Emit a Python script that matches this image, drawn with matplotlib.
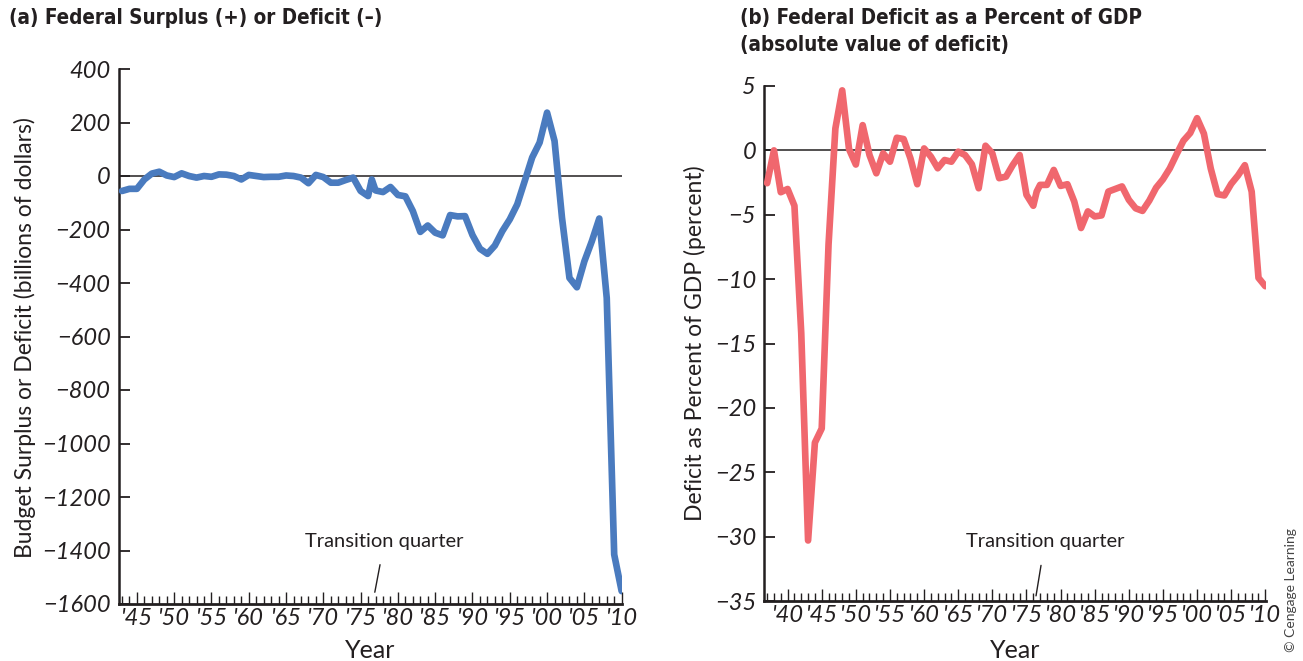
import numpy as np
import matplotlib
matplotlib.use('Agg')
import matplotlib.pyplot as plt
from matplotlib.ticker import MultipleLocator

plt.rcParams['font.family'] = ['Lato', 'DejaVu Sans']

# (a) federal surplus/deficit, billions of dollars (1943-2010, transition quarter at 1976.5)
surplus_years = [1943, 1944, 1945, 1946, 1947, 1948, 1949, 1950, 1951, 1952,
                 1953, 1954, 1955, 1956, 1957, 1958, 1959, 1960, 1961, 1962,
                 1963, 1964, 1965, 1966, 1967, 1968, 1969, 1970, 1971, 1972,
                 1973, 1974, 1975, 1976, 1976.5, 1977, 1978, 1979, 1980, 1981,
                 1982, 1983, 1984, 1985, 1986, 1987, 1988, 1989, 1990, 1991,
                 1992, 1993, 1994, 1995, 1996, 1997, 1998, 1999, 2000, 2001,
                 2002, 2003, 2004, 2005, 2006, 2007, 2008, 2009, 2010]
surplus = [-56, -48, -48, -13, 9, 16, 2, -4, 10, 0,
           -6, 0, -3, 6, 5, 0, -13, 4, 0, -4,
           -3, -3, 2, 0, -6, -27, 4, -4, -25, -25,
           -15, -6, -56, -75, -13, -54, -60, -41, -71, -76,
           -131, -209, -185, -212, -222, -146, -151, -150, -221, -272,
           -291, -260, -206, -162, -106, -19, 69, 125, 237, 131,
           -156, -381, -416, -319, -244, -159, -456, -1415, -1552]

# (b) deficit as percent of GDP (1937-2010)
gdp_years = [1937, 1938, 1939, 1940, 1941, 1942, 1943, 1944, 1945, 1946,
             1947, 1948, 1949, 1950, 1951, 1952, 1953, 1954, 1955, 1956,
             1957, 1958, 1959, 1960, 1961, 1962, 1963, 1964, 1965, 1966,
             1967, 1968, 1969, 1970, 1971, 1972, 1973, 1974, 1975, 1976,
             1976.5, 1977, 1978, 1979, 1980, 1981, 1982, 1983, 1984, 1985,
             1986, 1987, 1988, 1989, 1990, 1991, 1992, 1993, 1994, 1995,
             1996, 1997, 1998, 1999, 2000, 2001, 2002, 2003, 2004, 2005,
             2006, 2007, 2008, 2009, 2010]
gdp_pct = [-2.55, 0.0, -3.25, -3.0, -4.3, -14.2, -30.3, -22.7, -21.6, -7.3,
           1.7, 4.66, 0.1, -1.1, 1.96, -0.36, -1.78, -0.23, -0.88, 0.98,
           0.88, -0.62, -2.63, 0.15, -0.49, -1.39, -0.75, -0.88, -0.1, -0.36,
           -1.08, -2.94, 0.36, -0.23, -2.16, -2.04, -1.13, -0.36, -3.45, -4.3,
           -3.2, -2.68, -2.68, -1.52, -2.76, -2.63, -3.97, -6.03, -4.74, -5.13,
           -5.05, -3.2, -3.0, -2.8, -3.84, -4.5, -4.7, -3.9, -2.9, -2.25,
           -1.4, -0.3, 0.75, 1.35, 2.5, 1.3, -1.4, -3.4, -3.5, -2.6,
           -1.95, -1.15, -3.2, -9.9, -10.55]

left_yticks = [400, 200, 0, -200, -400, -600, -800, -1000, -1200, -1400, -1600]
right_yticks = [5, 0, -5, -10, -15, -20, -25, -30, -35]
left_xticks = list(range(1945, 2011, 5))
right_xticks = list(range(1940, 2011, 5))
transition_quarter = 1976.5

blue = '#4a7bbf'
red = '#f0676e'
ink = '#231f20'

W, H = 1303, 661
fig = plt.figure(figsize=(W / 100, H / 100), dpi=100)


def ylab(v):
    return str(v) if v >= 0 else '\u2212' + str(-v)


def style_axes(ax, xticks, yticks):
    for s in ['top', 'right']:
        ax.spines[s].set_visible(False)
    ax.spines['left'].set_linewidth(1.8)
    ax.spines['bottom'].set_linewidth(2.0)
    ax.spines['left'].set_color(ink)
    ax.spines['bottom'].set_color(ink)
    ax.set_yticks(yticks)
    ax.set_yticklabels([ylab(v) for v in yticks], fontstyle='italic', fontsize=17, color=ink)
    ax.set_xticks(xticks)
    ax.set_xticklabels(["'" + str(y)[2:] for y in xticks], fontstyle='italic', fontsize=17, color=ink)
    ax.xaxis.set_minor_locator(MultipleLocator(1))
    ax.tick_params(axis='y', direction='in', length=8, width=1.3, pad=6, colors=ink)
    ax.tick_params(axis='x', which='major', direction='in', length=9, width=1.0, pad=3, colors=ink)
    ax.tick_params(axis='x', which='minor', direction='in', length=5.5, width=1.0, colors=ink)
    ax.axhline(0, color=ink, lw=1.1, zorder=1)


# left panel
ax1 = fig.add_axes([119 / W, 1 - 604 / H, (622.4 - 119) / W, (604 - 69) / H])
ax1.plot(surplus_years, surplus, color=blue, lw=4.8, solid_joinstyle='round', solid_capstyle='round', zorder=3)
ax1.set_xlim(1942.6, 2010.1)
ax1.set_ylim(-1600, 400)
style_axes(ax1, left_xticks, left_yticks)
ax1.annotate('Transition quarter', xy=(transition_quarter + 0.4, -1556), xytext=(1978.2, -1365),
             ha='center', va='center', fontsize=14.5, color=ink,
             arrowprops=dict(arrowstyle='-', color=ink, lw=1.0, shrinkA=9, shrinkB=0))

# right panel
ax2 = fig.add_axes([764.4 / W, 1 - 601 / H, (1266 - 764.4) / W, (601 - 86) / H])
ax2.plot(gdp_years, gdp_pct, color=red, lw=4.8, solid_joinstyle='round', solid_capstyle='round', zorder=3)
ax2.set_xlim(1936.6, 2010.1)
ax2.set_ylim(-35, 5)
style_axes(ax2, right_xticks, right_yticks)
ax2.annotate('Transition quarter', xy=(transition_quarter - 0.1, -34.6), xytext=(1977.7, -30.4),
             ha='center', va='center', fontsize=14.5, color=ink,
             arrowprops=dict(arrowstyle='-', color=ink, lw=1.0, shrinkA=9, shrinkB=0))

# titles and labels
title_font = dict(family=['DejaVu Sans'], fontstretch='condensed', fontweight='bold', color=ink)
fig.text(9 / W, 1 - 18 / H, '(a) Federal Surplus (+) or Deficit (\u2013)', va='center', ha='left',
         fontsize=14.8, **title_font)
fig.text(740 / W, 1 - 18 / H, '(b) Federal Deficit as a Percent of GDP', va='center', ha='left',
         fontsize=14.8, **title_font)
fig.text(740 / W, 1 - 45 / H, '(absolute value of deficit)', va='center', ha='left',
         fontsize=14.8, **title_font)

fig.text(25 / W, 1 - 338 / H, 'Budget Surplus or Deficit (billions of dollars)', rotation=90,
         va='center', ha='center', fontsize=16.5, color=ink)
fig.text(695 / W, 1 - 343 / H, 'Deficit as Percent of GDP (percent)', rotation=90,
         va='center', ha='center', fontsize=16.5, color=ink)
fig.text(370 / W, 1 - 650 / H, 'Year', va='center', ha='center', fontsize=18, color=ink)
fig.text(1015 / W, 1 - 650 / H, 'Year', va='center', ha='center', fontsize=18, color=ink)
fig.text(1291 / W, 1 - 590 / H, '\u00a9 Cengage Learning', rotation=90, va='center', ha='center',
         fontsize=10, color='#444444')

fig.savefig('out.png', dpi=100)
